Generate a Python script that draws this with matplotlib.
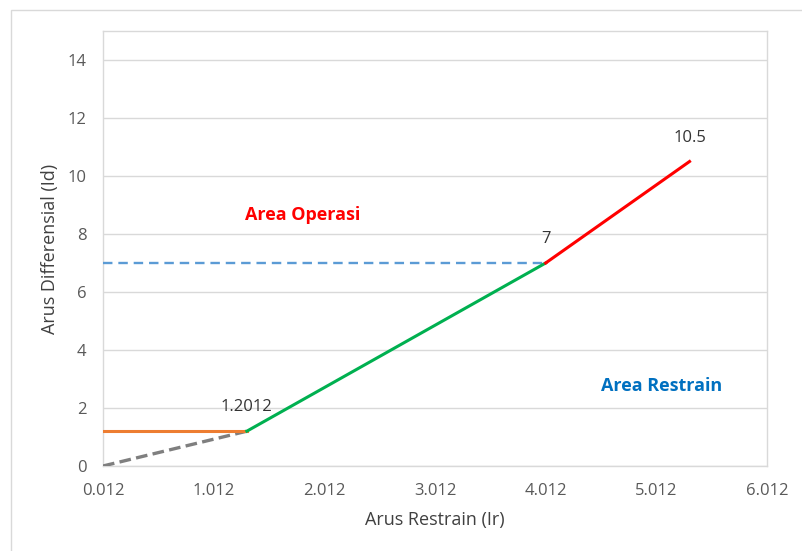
import numpy as np
import matplotlib.pyplot as plt
from matplotlib.patches import Rectangle

plt.rcParams['font.family'] = ['Open Sans', 'DejaVu Sans']

# characteristic segments (Ir, Id)
x_origin = [0.012, 1.312]
y_origin = [0.0, 1.2012]
x_pickup = [0.012, 1.312]
y_pickup = [1.2012, 1.2012]
x_slope1 = [1.312, 4.012]
y_slope1 = [1.2012, 7.0]
x_slope2 = [4.012, 5.312]
y_slope2 = [7.0, 10.5]
x_limit = [0.012, 4.012]
y_limit = [7.0, 7.0]

# point labels
lbl_x = [1.312, 4.012, 5.312]
lbl_y = [1.2012, 7.0, 10.5]
lbl_txt = ['1.2012', '7', '10.5']

xticks = [0.012, 1.012, 2.012, 3.012, 4.012, 5.012, 6.012]
yticks = [0, 2, 4, 6, 8, 10, 12, 14]

fig = plt.figure(figsize=(8.02, 5.51), dpi=100)
fig.patches.append(Rectangle((11/802, -0.1), 1.2, 1.1 - 10/551,
                             transform=fig.transFigure, fill=False,
                             edgecolor='#d9d9d9', linewidth=1))
ax = fig.add_axes([103/802, 85/551, 664/802, 435/551])

ax.plot(x_origin, y_origin, color='#7f7f7f', lw=2.4, ls=(0, (3.5, 1.6)), zorder=3)
ax.plot(x_pickup, y_pickup, color='#ed7d31', lw=2.2, zorder=3)
ax.plot(x_limit, y_limit, color='#5b9bd5', lw=1.7, ls=(0, (4, 2.5)), zorder=3)
ax.plot(x_slope1, y_slope1, color='#00b050', lw=2.2, zorder=4)
ax.plot(x_slope2, y_slope2, color='#ff0000', lw=2.2, zorder=4)

for x, y, t in zip(lbl_x, lbl_y, lbl_txt):
    ax.annotate(t, (x, y), xytext=(0, 24), textcoords='offset pixels',
                ha='center', va='center', fontsize=12, color='#333333')

ax.text(1.82, 8.66, 'Area Operasi', color='#ff0000', fontsize=13,
        fontweight='bold', ha='center', va='center')
ax.text(5.06, 2.76, 'Area Restrain', color='#0070c0', fontsize=13,
        fontweight='bold', ha='center', va='center')

ax.set_xlim(0.012, 6.012)
ax.set_ylim(0, 15)
ax.set_xticks(xticks)
ax.set_xticklabels(['%.3f' % v for v in xticks])
ax.set_yticks(yticks)
ax.tick_params(length=0, labelsize=12, labelcolor='#595959')
ax.tick_params(axis='x', pad=12)
ax.tick_params(axis='y', pad=12)
ax.grid(axis='y', color='#d9d9d9', lw=1)
ax.set_axisbelow(True)
for s in ax.spines.values():
    s.set_color('#d9d9d9')
    s.set_linewidth(1)

ax.set_xlabel('Arus Restrain (Ir)', fontsize=13, color='#404040', labelpad=9)
ax.set_ylabel('Arus Differensial (Id)', fontsize=13, color='#404040', labelpad=6)

fig.savefig('out.png', dpi=100)
